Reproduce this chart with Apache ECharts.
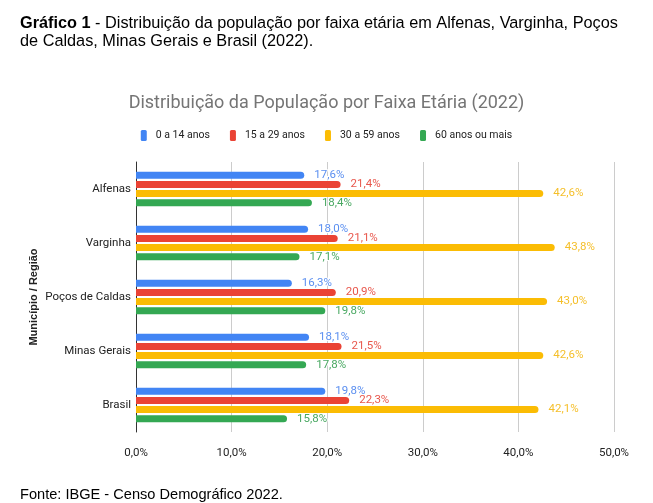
<!DOCTYPE html>
<html>
<head>
<meta charset="utf-8">
<script src="https://cdn.jsdelivr.net/npm/echarts@6/dist/echarts.min.js"></script>
<style>
  html, body { margin: 0; padding: 0; background: #fff; }
  #chart { width: 653px; height: 503px; }
</style>
</head>
<body>
<div id="chart"></div>
<script>
// dados
var regioes = ['Alfenas', 'Varginha', 'Poços de Caldas', 'Minas Gerais', 'Brasil'];
var faixas = ['0 a 14 anos', '15 a 29 anos', '30 a 59 anos', '60 anos ou mais'];
var faixa0a14 = [17.6, 18.0, 16.3, 18.1, 19.8];
var faixa15a29 = [21.4, 21.1, 20.9, 21.5, 22.3];
var faixa30a59 = [42.6, 43.8, 43.0, 42.6, 42.1];
var faixa60mais = [18.4, 17.1, 19.8, 17.8, 15.8];
var ticksX = [0, 10, 20, 30, 40, 50];

var cores = ['#4285F4', '#EA4335', '#FBBC04', '#34A853'];
var coresRotulo = ['#5B8FF0', '#E8574C', '#F5BF2A', '#49A862'];
var fonteGrafico = 'Roboto, sans-serif';
var fonteArial = '"Liberation Sans", Arial, sans-serif';

function pct(v) {
    return v.toFixed(1).replace('.', ',') + '%';
}

var valores = [faixa0a14, faixa15a29, faixa30a59, faixa60mais];

var series = [];
for (var i = 0; i < faixas.length; i++) {
    series.push({
        name: faixas[i],
        type: 'bar',
        data: valores[i],
        barWidth: 7,
        barGap: '30%',
        itemStyle: {color: cores[i], borderRadius: [0, 4, 4, 0]},
        label: {
            show: true,
            position: 'right',
            distance: 10,
            color: coresRotulo[i],
            fontFamily: fonteGrafico,
            fontSize: 11.5,
            textBorderColor: '#fff',
            textBorderWidth: 2,
            formatter: function (p) { return pct(p.value); }
        }
    });
}

var grafico = echarts.init(document.getElementById('chart'));
var option = {
    animation: false,
    title: [
        {
            text: '{b|Gráfico 1} - Distribuição da população por faixa etária em Alfenas, Varginha, Poços\nde Caldas, Minas Gerais e Brasil (2022).',
            left: 15,
            top: 10,
            textStyle: {
                fontFamily: fonteArial,
                fontSize: 16.3,
                fontWeight: 'normal',
                color: '#000',
                lineHeight: 18,
                rich: {
                    b: {fontFamily: fonteArial, fontSize: 16.3, fontWeight: 'bold', color: '#000', lineHeight: 18}
                }
            }
        },
        {
            text: 'Distribuição da População por Faixa Etária (2022)',
            left: 'center',
            top: 89,
            textStyle: {fontFamily: fonteGrafico, fontSize: 18, fontWeight: 'normal', color: '#757575'}
        },
        {
            text: 'Fonte: IBGE - Censo Demográfico 2022.',
            left: 15,
            top: 482,
            textStyle: {fontFamily: fonteArial, fontSize: 14.6, fontWeight: 'normal', color: '#000'}
        }
    ],
    legend: {
        data: faixas,
        left: 'center',
        top: 125,
        icon: 'roundRect',
        itemWidth: 6,
        itemHeight: 11,
        itemGap: 20,
        textStyle: {fontFamily: fonteGrafico, fontSize: 10.5, color: '#222', padding: [0, 0, 0, 4]}
    },
    grid: {left: 136, right: 39, top: 162, bottom: 71},
    xAxis: {
        type: 'value',
        min: ticksX[0],
        max: ticksX[ticksX.length - 1],
        interval: 10,
        axisLine: {show: false},
        axisTick: {show: false},
        splitLine: {lineStyle: {color: '#cccccc'}},
        axisLabel: {
            color: '#222',
            fontFamily: fonteGrafico,
            fontSize: 11.5,
            margin: 15,
            formatter: function (v) { return pct(v); }
        }
    },
    yAxis: {
        type: 'category',
        data: regioes,
        inverse: true,
        axisLine: {lineStyle: {color: '#333', width: 1}},
        axisTick: {show: false},
        axisLabel: {color: '#222', fontFamily: fonteGrafico, fontSize: 11.5, margin: 5},
        name: 'Município / Região',
        nameLocation: 'middle',
        nameRotate: 90,
        nameGap: 97,
        nameMoveOverlap: false,
        nameTextStyle: {fontFamily: fonteArial, fontSize: 11, fontWeight: 'bold', color: '#222'}
    },
    series: series
};

if (option && typeof option === "object") {
    grafico.setOption(option, true);
}
</script>
</body>
</html>
